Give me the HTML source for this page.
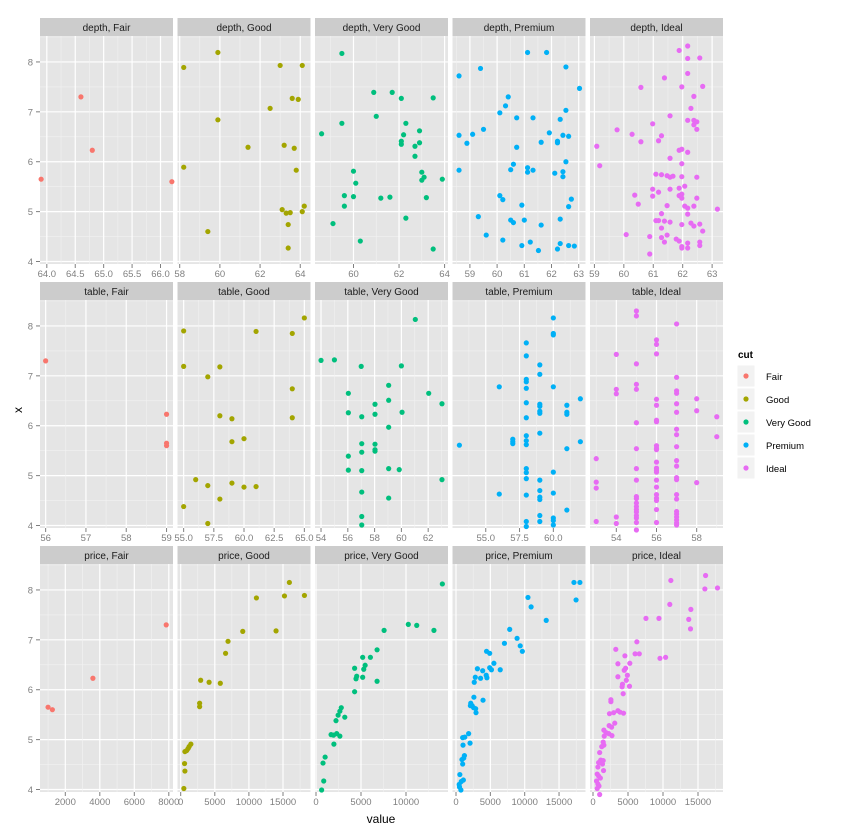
<!DOCTYPE html>
<html><head><meta charset="utf-8">
<style>
body{margin:0;background:#fff;}
svg{display:block;font-family:"Liberation Sans",sans-serif;}
</style></head>
<body>
<svg id="chart" width="848" height="836" xmlns="http://www.w3.org/2000/svg"></svg>
<script>
// ---------- data ----------
const cuts = ["Fair","Good","Very Good","Premium","Ideal"];
const variables = ["depth","table","price"];
const colors = ["#F8766D","#A3A500","#00BF7D","#00B0F6","#E76BF3"];
const yTicks = [4,5,6,7,8];

const depthFair = [[63.9,5.65],[64.6,7.3],[64.8,6.23],[66.2,5.6]];
const depthGood = [[58.2,7.89],[59.9,8.19],[59.9,6.84],[58.2,5.89],[59.4,4.6],[61.4,6.29],[62.5,7.07],[63.0,7.93],[64.1,7.93],[63.6,7.27],[63.9,7.25],[63.2,6.33],[63.7,6.27],[63.8,5.83],[63.1,5.04],[63.3,4.97],[63.5,4.98],[64.1,5.0],[64.2,5.11],[63.4,4.74],[63.4,4.27]];
const depthVeryGood = [[59.49,8.17],[60.89,7.39],[61.7,7.39],[62.1,7.27],[63.5,7.28],[61.0,6.91],[59.49,6.77],[62.3,6.77],[58.6,6.56],[62.2,6.54],[62.9,6.62],[62.1,6.41],[62.1,6.35],[62.7,6.31],[62.9,6.38],[62.7,6.11],[60.0,5.81],[60.1,5.57],[59.6,5.32],[60.0,5.3],[59.6,5.11],[61.2,5.27],[61.6,5.29],[63.0,5.79],[63.1,5.69],[63.0,5.63],[63.9,5.65],[63.2,5.28],[62.3,4.87],[59.1,4.76],[60.3,4.41],[63.5,4.25]];
const depthPremium = [[61.12,8.19],[61.82,8.19],[59.39,7.87],[58.6,7.72],[62.53,7.9],[63.03,7.47],[60.41,7.3],[60.31,7.12],[60.1,6.98],[62.53,7.03],[60.72,6.88],[61.32,6.88],[62.32,6.85],[59.5,6.65],[59.1,6.55],[58.6,6.53],[58.89,6.37],[61.92,6.58],[62.42,6.53],[62.63,6.51],[61.62,6.39],[62.22,6.41],[62.22,6.38],[60.72,6.29],[62.53,6.0],[60.6,5.95],[60.5,5.84],[61.12,5.88],[61.12,5.79],[61.32,5.83],[58.6,5.83],[62.12,5.77],[62.42,5.8],[62.42,5.7],[60.1,5.32],[60.21,5.24],[60.91,5.13],[62.73,5.25],[62.63,5.1],[59.31,4.9],[60.5,4.83],[60.6,4.78],[61.0,4.83],[61.62,4.73],[62.32,4.85],[59.6,4.53],[60.21,4.43],[60.91,4.32],[61.22,4.39],[61.52,4.22],[62.22,4.25],[62.32,4.36],[62.63,4.32],[62.84,4.31]];
const depthIdeal = [[62.17,8.32],[61.88,8.23],[62.17,8.07],[62.58,8.08],[62.17,7.77],[61.38,7.68],[60.58,7.49],[61.97,7.5],[62.68,7.51],[62.38,7.31],[62.28,7.07],[61.57,6.92],[60.98,6.76],[62.17,6.83],[62.38,6.83],[62.48,6.8],[62.38,6.74],[62.48,6.65],[59.77,6.64],[60.28,6.55],[60.58,6.4],[61.28,6.52],[61.18,6.42],[59.08,6.31],[61.88,6.23],[61.97,6.25],[62.17,6.19],[59.18,5.92],[61.57,6.07],[61.97,5.96],[61.09,5.75],[61.28,5.74],[61.47,5.72],[61.57,5.69],[61.67,5.71],[61.97,5.7],[62.48,5.69],[62.07,5.51],[60.98,5.45],[61.18,5.39],[61.57,5.45],[61.88,5.47],[61.97,5.35],[61.88,5.32],[61.97,5.27],[60.37,5.33],[60.98,5.31],[60.49,5.15],[61.47,5.12],[62.07,5.11],[62.17,5.07],[62.38,5.11],[62.48,5.27],[63.18,5.05],[61.28,4.96],[62.17,4.95],[61.09,4.82],[61.18,4.82],[61.38,4.81],[61.57,4.79],[61.97,4.74],[62.28,4.77],[62.38,4.71],[62.58,4.75],[61.28,4.67],[62.68,4.61],[60.08,4.54],[60.88,4.5],[61.28,4.48],[61.47,4.53],[61.38,4.39],[61.78,4.45],[61.88,4.41],[61.97,4.3],[61.97,4.27],[62.17,4.37],[62.17,4.27],[62.58,4.39],[62.58,4.32],[60.88,4.15]];

const tableFair = [[56,7.3],[59,6.23],[59,5.65],[59,5.6]];
const tableGood = [[65.0,8.16],[55.0,7.9],[61.0,7.89],[64.0,7.85],[55.0,7.19],[58.0,7.18],[57.0,6.98],[64.0,6.74],[58.0,6.2],[59.0,6.14],[64.0,6.16],[59.0,5.68],[60.0,5.74],[56.0,4.92],[57.0,4.8],[59.0,4.85],[60.0,4.77],[61.0,4.78],[58.0,4.53],[55.0,4.38],[57.0,4.04]];
const tableVeryGood = [[61.04,8.13],[54.0,7.31],[55.0,7.32],[57.0,7.19],[60.0,7.2],[59.05,6.81],[56.04,6.65],[62.04,6.65],[63.03,6.44],[58.03,6.43],[59.05,6.51],[56.04,6.26],[57.04,6.18],[58.03,6.23],[60.05,6.27],[59.05,5.97],[57.04,5.64],[57.04,5.47],[58.03,5.63],[58.03,5.52],[58.03,5.49],[56.04,5.39],[56.04,5.11],[57.04,5.1],[59.05,5.14],[59.84,5.12],[63.03,4.92],[57.04,4.67],[59.05,4.55],[57.04,4.18],[57.04,4.01]];
const tablePremium = [[60,8.16],[60,7.85],[60,7.82],[58,7.66],[58,7.4],[59,7.22],[59,7.03],[58,6.93],[58,6.88],[58,6.75],[56,6.78],[60,6.78],[62,6.54],[58,6.46],[59,6.43],[59,6.39],[59,6.29],[59,6.25],[61,6.41],[61,6.27],[61,6.23],[58,6.16],[59,5.85],[58,5.8],[57,5.73],[57,5.68],[57,5.64],[58,5.7],[58,5.62],[53.05,5.61],[62,5.68],[61,5.54],[58,5.14],[58,5.06],[58,4.94],[60,5.07],[59,4.91],[56,4.63],[58,4.61],[59,4.7],[59,4.57],[59,4.52],[60,4.65],[61,4.31],[59,4.2],[59,4.08],[58,4.08],[58,3.98],[60,4.15],[60,4.1],[60,4.01]];
const tableIdeal = [[55,8.3],[55,8.2],[57,8.04],[56,7.72],[56,7.63],[56,7.44],[54,7.43],[55,7.24],[57,6.97],[55,6.83],[55,6.73],[54,6.73],[54,6.64],[57,6.7],[57,6.65],[56,6.53],[56,6.41],[57,6.44],[57,6.27],[58,6.54],[58,6.3],[59,6.18],[59,5.78],[55,6.06],[56,6.11],[56,6.08],[57,5.93],[57,5.82],[57,5.58],[56,5.6],[56,5.55],[56,5.52],[55,5.54],[53,5.34],[56,5.27],[56,5.15],[56,5.11],[56,5.07],[57,5.3],[57,5.19],[55,5.14],[57,4.96],[57,4.92],[58,4.86],[55,4.91],[56,4.91],[53,4.87],[53,4.75],[56,4.77],[55,4.58],[55,4.54],[55,4.45],[55,4.38],[55,4.32],[55,4.27],[55,4.2],[55,4.15],[55,4.06],[55,3.91],[56,4.62],[56,4.55],[56,4.5],[56,4.32],[56,4.06],[57,4.62],[57,4.53],[57,4.28],[57,4.23],[57,4.17],[57,4.11],[57,4.05],[57,4.01],[54,4.17],[54,4.04],[53,4.08]];

const priceFair = [[1000,5.65],[1250,5.6],[3600,6.23],[7850,7.3]];
const priceGood = [[15934,8.15],[11102,7.84],[15214,7.88],[18144,7.89],[9098,7.17],[13981,7.18],[6939,6.97],[6579,6.73],[2930,6.19],[4163,6.15],[5808,6.13],[2776,5.73],[2776,5.66],[1491,4.91],[1234,4.86],[1079,4.82],[874,4.78],[617,4.76],[565,4.52],[617,4.37],[463,4.02]];
const priceVeryGood = [[14040,8.12],[10257,7.31],[11193,7.29],[13104,7.19],[7566,7.19],[6786,6.8],[5187,6.65],[6045,6.65],[5460,6.49],[4290,6.43],[5304,6.41],[4524,6.27],[4446,6.22],[5187,6.25],[6786,6.17],[4290,5.96],[2808,5.64],[2652,5.57],[2457,5.49],[3198,5.45],[2223,5.38],[1677,5.1],[1950,5.09],[2301,5.12],[2652,5.07],[1989,4.91],[1014,4.65],[780,4.53],[858,4.17],[624,3.99]];
const pricePremium = [[17170,8.15],[18038,8.15],[17476,7.8],[10476,7.85],[10935,7.66],[13133,7.39],[7818,7.21],[8891,7.03],[9351,6.88],[9658,6.77],[7052,6.93],[4446,6.77],[4906,6.73],[5519,6.53],[4906,6.44],[5161,6.4],[6439,6.4],[3884,6.38],[3117,6.42],[2811,6.25],[3577,6.23],[4395,6.29],[4497,6.24],[2657,6.15],[3935,5.79],[2606,5.85],[2146,5.73],[2351,5.68],[2555,5.64],[2862,5.62],[2913,5.54],[2095,5.68],[1840,5.12],[1278,5.05],[971,5.04],[2044,4.93],[1022,4.89],[1227,4.68],[1124,4.63],[869,4.6],[971,4.51],[562,4.3],[1073,4.19],[767,4.16],[460,4.1],[511,4.05],[716,3.99]];
const priceIdeal = [[16082,8.29],[11122,8.19],[15982,8.02],[17786,8.04],[10972,7.71],[13978,7.61],[7565,7.43],[9419,7.43],[13678,7.41],[13928,7.22],[6263,6.96],[3257,6.81],[4559,6.68],[6012,6.72],[6613,6.72],[9569,6.63],[10371,6.65],[3557,6.52],[5261,6.53],[4659,6.43],[4459,6.39],[3557,6.26],[4910,6.29],[4760,6.19],[4208,6.11],[4158,6.06],[5210,6.07],[4309,5.92],[2555,5.8],[2555,5.76],[2355,5.52],[2956,5.54],[3557,5.58],[3858,5.55],[4359,5.53],[3106,5.33],[2305,5.28],[2655,5.25],[1553,5.19],[1854,5.14],[2255,5.12],[2706,5.08],[1603,5.07],[1453,4.95],[1553,4.89],[1253,4.86],[952,4.74],[1102,4.59],[1453,4.58],[802,4.54],[701,4.45],[1353,4.51],[1503,4.38],[601,4.31],[802,4.27],[1052,4.23],[501,4.17],[701,4.11],[852,4.07],[601,4.02],[952,3.9]];

const panelData = [
  [depthFair, depthGood, depthVeryGood, depthPremium, depthIdeal],
  [tableFair, tableGood, tableVeryGood, tablePremium, tableIdeal],
  [priceFair, priceGood, priceVeryGood, pricePremium, priceIdeal]
];
const depthTicks = [[64,64.5,65,65.5,66],[58,60,62,64],[60,62,64],[59,60,61,62,63],[59,60,61,62,63]];
const depthTickLabels = [["64.0","64.5","65.0","65.5","66.0"],["58","60","62","64"],["60","62","64"],["59","60","61","62","63"],["59","60","61","62","63"]];
const tableTicks = [[56,57,58,59],[55,57.5,60,62.5,65],[54,56,58,60,62],[55,57.5,60],[54,56,58]];
const tableTickLabels = [["56","57","58","59"],["55.0","57.5","60.0","62.5","65.0"],["54","56","58","60","62"],["55.0","57.5","60.0"],["54","56","58"]];
const priceTicks = [[2000,4000,6000,8000],[0,5000,10000,15000],[0,5000,10000],[0,5000,10000,15000],[0,5000,10000,15000]];
const priceTickLabels = [["2000","4000","6000","8000"],["0","5000","10000","15000"],["0","5000","10000"],["0","5000","10000","15000"],["0","5000","10000","15000"]];
// x domains (data units at left and right panel edges)
const depthDomains = [[63.88,66.22],[57.89,64.51],[58.31,64.15],[58.36,63.25],[58.85,63.37]];
const tableDomains = [[55.86,59.16],[54.49,65.51],[53.55,63.48],[52.54,62.38],[52.69,59.31]];
const priceDomains = [[533,8243],[-469,19032],[-111,14667],[-509,18851],[-429,18571]];
const xDomains = [depthDomains, tableDomains, priceDomains];
// ---------- layout ----------
const NS="http://www.w3.org/2000/svg";
const svg=document.getElementById('chart');
const colLeft=[40,177.5,315,452.5,590], PW=133, rowTop=[18,282,546], SH=18, PH=228;
const yDom=[3.95,8.52];
function mk(tag,attrs,parent){const e=document.createElementNS(NS,tag);for(const k in attrs)e.setAttribute(k,attrs[k]);(parent||svg).appendChild(e);return e;}
function xScale(r,c,v){const d=xDomains[r][c];return colLeft[c]+(v-d[0])/(d[1]-d[0])*PW;}
function yScale(r,v){const t=rowTop[r]+SH;return t+PH-(v-yDom[0])/(yDom[1]-yDom[0])*PH;}
const allTicks=[depthTicks,tableTicks,priceTicks], allLabels=[depthTickLabels,tableTickLabels,priceTickLabels];
const defs=mk('defs',{});

for(let r=0;r<3;r++){
  for(let c=0;c<5;c++){
    const px=colLeft[c], pt=rowTop[r]+SH;
    const cp=mk('clipPath',{id:'cp'+r+c},defs);
    mk('rect',{x:px,y:pt,width:PW,height:PH},cp);
    const g=mk('g',{});
    
    
    const strip=mk('rect',{x:px,y:rowTop[r],width:PW,height:SH,fill:'#cccccc'},g);
    
    
    const st=mk('text',{x:px+PW/2,y:rowTop[r]+13,'text-anchor':'middle','font-size':'10',fill:'#1a1a1a'},g);
    st.textContent=variables[r]+', '+cuts[c];
    
    
    const bg=mk('rect',{x:px,y:pt,width:PW,height:PH,fill:'#e5e5e5'},g);
    
    
    const gg=mk('g',{'clip-path':'url(#cp'+r+c+')'},g);
    for(let i=0;i<yTicks.length;i++){
      const yv=yTicks[i];
      mk('line',{x1:px,x2:px+PW,y1:yScale(r,yv+0.5),y2:yScale(r,yv+0.5),stroke:'#f2f2f2','stroke-width':0.6},gg);
      const ln=mk('line',{x1:px,x2:px+PW,y1:yScale(r,yv),y2:yScale(r,yv),stroke:'#fff','stroke-width':1.2},gg);
      
      
    }
    const tk=allTicks[r][c], lb=allLabels[r][c];
    const step=tk.length>1?tk[1]-tk[0]:1;
    for(let i=-1;i<=tk.length;i++){
      const mv=(i<0?tk[0]-step/2:tk[Math.min(i,tk.length-1)]+step/2+(i===tk.length?step:0));
      const mx=xScale(r,c,mv);
      mk('line',{x1:mx,x2:mx,y1:pt,y2:pt+PH,stroke:'#f2f2f2','stroke-width':0.6},gg);
    }
    for(let i=0;i<tk.length;i++){
      const x=xScale(r,c,tk[i]);
      const gl=mk('line',{x1:x,x2:x,y1:pt,y2:pt+PH,stroke:'#fff','stroke-width':1.2},gg);
      
      
      mk('line',{x1:x,x2:x,y1:pt+PH,y2:pt+PH+4,stroke:'#7f7f7f','stroke-width':1},g);
      const tl=mk('text',{x:x,y:pt+PH+13,'text-anchor':'middle','font-size':'9.5',fill:'#7f7f7f'},g);
      tl.textContent=lb[i];
      
      
    }
    const pts=panelData[r][c];
    for(const p of pts){
      const dot=mk('circle',{cx:xScale(r,c,p[0]),cy:yScale(r,p[1]),r:2.6,fill:colors[c]},g);
      
      
    }
  }
  for(const yv of yTicks){
    const y=yScale(r,yv);
    mk('line',{x1:36,x2:40,y1:y,y2:y,stroke:'#7f7f7f','stroke-width':1});
    const t=mk('text',{x:33,y:y+3.5,'text-anchor':'end','font-size':'9.5',fill:'#7f7f7f'});
    t.textContent=yv;
    
    
  }
}
const xt=mk('text',{x:381,y:823,'text-anchor':'middle','font-size':'12',fill:'#000'});
xt.textContent='value';


const yt=mk('text',{x:22,y:410,'text-anchor':'middle','font-size':'12',fill:'#000',transform:'rotate(-90 22 410)'});
yt.textContent='x';


const lg=mk('g',{});


const ltit=mk('text',{x:738,y:358,'font-size':'10','font-weight':'bold',fill:'#000'},lg);
ltit.textContent='cut';


for(let i=0;i<cuts.length;i++){
  const e=mk('g',{},lg);
  
  
  const y0=365+i*23;
  mk('rect',{x:737,y:y0,width:18,height:22,fill:'#f2f2f2',stroke:'#fff','stroke-width':1},e);
  mk('circle',{cx:746,cy:y0+11,r:2.6,fill:colors[i]},e);
  const t=mk('text',{x:766,y:y0+15,'font-size':'9.5',fill:'#000'},e);
  t.textContent=cuts[i];
}
</script>
</body></html>
